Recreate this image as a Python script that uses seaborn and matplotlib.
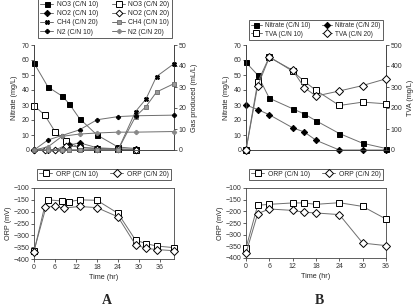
import matplotlib.pyplot as plt
import seaborn as sns
import numpy as np

sns.set_style('ticks')
plt.rcParams['font.family'] = ['Liberation Sans', 'DejaVu Sans']
plt.rcParams['axes.linewidth'] = 0.6
plt.rcParams['xtick.major.width'] = 0.6
plt.rcParams['ytick.major.width'] = 0.6
plt.rcParams['xtick.major.size'] = 2
plt.rcParams['ytick.major.size'] = 2
plt.rcParams['axes.edgecolor'] = '#444444'

# Panel A top - nitrate / nitrite (left axis)
t_a10 = [0, 4, 8, 10, 13, 18, 24, 29]
no3_10 = [58, 42, 36, 31, 21, 10, 2, 1]
no2_10 = [0, 0, 0, 3.2, 4.8, 1.5, 0.8, 0.5]
t_a20 = [0, 3, 6, 9, 13, 18, 24, 29]
no3_20 = [29.5, 23.5, 12.3, 6.3, 1.5, 1, 0.5, 0]
no2_20 = [0, 0, 0, 3, 2, 1, 0.5, 0]

# Panel A top - gases (right axis)
t_gas = [0, 4, 8, 10, 13, 18, 24, 29, 32, 35, 40]
ch4_20 = [0, 0, 0, 0, 0, 0.2, 0, 18.3, 24.3, 35, 41.1]
ch4_10 = [0, 0, 0, 0, 0, 0, 0, 15.9, 20.7, 27.6, 31.6]
t_n2 = [0, 4, 8, 13, 18, 24, 29, 40]
n2_10 = [0, 4.8, 6.9, 9.6, 14.4, 15.9, 16.3, 16.6]
n2_20 = [0, 1.5, 6.5, 7.6, 8.1, 8.5, 8.5, 8.8]

# Panel B top
t_b = [0, 3, 6, 12, 15, 18, 24, 30, 36]
nit_10 = [58.4, 50, 34.5, 27.5, 24, 19.5, 11, 4.5, 1]
nit_20 = [30, 27, 23.5, 14.8, 12, 6.5, 0, 0, 0]
tva_10 = [0, 322, 444, 375, 327, 284, 212, 228, 220]
tva_20 = [0, 305, 441, 380, 297, 257, 281, 307, 339]

# ORP panel A
t_orp_a10 = [0, 4, 8, 10, 13, 18, 24, 29, 32, 35, 40]
orp_a10 = [-365, -150, -155, -158, -150, -152, -207, -320, -335, -345, -352]
t_orp_a20 = [0, 3, 6, 8.5, 13, 18, 24, 29, 32, 35, 40]
orp_a20 = [-370, -180, -178, -185, -178, -183, -222, -340, -355, -360, -365]

# ORP panel B
orp_b10 = [-357, -174, -170, -164, -164, -170, -163, -179, -233]
orp_b20 = [-379, -210, -190, -196, -204, -207, -214, -336, -347]

W, H = 416, 308
fig = plt.figure(figsize=(W / 100, H / 100), dpi=100)


def box(l, r, t, b):
    return [l / W, (H - b) / H, (r - l) / W, (b - t) / H]


ax_a = fig.add_axes(box(34, 174, 45, 150))
ax_a2 = ax_a.twinx()
ax_b = fig.add_axes(box(246, 386, 45, 150))
ax_b2 = ax_b.twinx()
ax_oa = fig.add_axes(box(34, 174, 188, 259))
ax_ob = fig.add_axes(box(246, 386, 188, 258))

LC = '#6e6e6e'


def draw(ax, t, y, marker, label, mfc='black', mec='black', ms=3.6):
    sns.lineplot(x=t, y=y, ax=ax, marker=marker, color=LC, label=label,
                 markerfacecolor=mfc, markeredgecolor=mec, markersize=ms,
                 markeredgewidth=0.7, linewidth=0.7, sort=False,
                 estimator=None, clip_on=False, zorder=5)
    return ax.lines[-1]


h = {}
h['no3_10'] = draw(ax_a, t_a10, no3_10, 's', 'NO3 (C/N 10)')
h['no3_20'] = draw(ax_a, t_a20, no3_20, 's', 'NO3 (C/N 20)', mfc='white', ms=4)
h['no2_10'] = draw(ax_a, t_a10, no2_10, 'D', 'NO2 (C/N 10)', ms=3.2)
h['no2_20'] = draw(ax_a, t_a20, no2_20, 'D', 'NO2 (C/N 20)', mfc='white', ms=3.4)
h['ch4_20'] = draw(ax_a2, t_gas, ch4_20, 'X', 'CH4 (C/N 20)', ms=3.0)
h['ch4_10'] = draw(ax_a2, t_gas, ch4_10, 's', 'CH4 (C/N 10)', mfc='#999999', mec='#777777', ms=2.6)
h['n2_10'] = draw(ax_a2, t_n2, n2_10, 'P', 'N2 (C/N 10)', ms=3.0)
h['n2_20'] = draw(ax_a2, t_n2, n2_20, 'P', 'N2 (C/N 20)', mfc='#888888', mec='#888888', ms=3.0)

h['nit_10'] = draw(ax_b, t_b, nit_10, 's', 'Nitrate (C/N 10)')
h['nit_20'] = draw(ax_b, t_b, nit_20, 'D', 'Nitrate (C/N 20)', ms=3.2)
h['tva_10'] = draw(ax_b2, t_b, tva_10, 's', 'TVA (C/N 10)', mfc='white', ms=4.2)
h['tva_20'] = draw(ax_b2, t_b, tva_20, 'D', 'TVA (C/N 20)', mfc='white', ms=4.0)

h['oa10'] = draw(ax_oa, t_orp_a10, orp_a10, 's', 'ORP (C/N 10)', mfc='white', ms=4.2)
h['oa20'] = draw(ax_oa, t_orp_a20, orp_a20, 'D', 'ORP (C/N 20)', mfc='white', ms=4.0)
h['ob10'] = draw(ax_ob, t_b, orp_b10, 's', 'ORP (C/N 10)', mfc='white', ms=4.2)
h['ob20'] = draw(ax_ob, t_b, orp_b20, 'D', 'ORP (C/N 20)', mfc='white', ms=4.0)

for ax in [ax_a, ax_a2, ax_b, ax_b2, ax_oa, ax_ob]:
    if ax.get_legend() is not None:
        ax.get_legend().remove()
    ax.tick_params(labelsize=5, colors='#444444', labelcolor='#333333', pad=1.5)

fs = 5.2
# top panels
for ax, ax2, xmax, r2, lab2 in [(ax_a, ax_a2, 40, 50, 'Gas produced (mL/L)'),
                               (ax_b, ax_b2, 36, 500, 'TVA (mg/L)')]:
    ax.set_xlim(0, xmax)
    ax.set_ylim(0, 70)
    ax.set_yticks(np.arange(0, 71, 10))
    ax.set_xticks([])
    ax2.set_ylim(0, r2)
    ax2.set_yticks(np.linspace(0, r2, 6))
    for a in (ax, ax2):
        a.spines['top'].set_visible(False)
        a.set_xlabel('')
    ax.set_ylabel('Nitrate (mg/L)', fontsize=fs, labelpad=2)
    ax2.set_ylabel(lab2, fontsize=fs, labelpad=3)

for ax, xmax in [(ax_oa, 40), (ax_ob, 36)]:
    ax.set_xlim(0, xmax)
    ax.set_xticks(np.arange(0, 37, 6))
    ax.set_ylim(-400, -100)
    ax.set_yticks(np.arange(-400, -99, 50))
    ax.set_yticklabels([f'\u2212{abs(v)}' for v in range(-400, -99, 50)])
    ax.set_xlabel('Time (hr)', fontsize=fs, labelpad=2)
    ax.set_ylabel('ORP (mV)', fontsize=fs, labelpad=1)

leg_kw = dict(frameon=True, fancybox=False, framealpha=1,
              edgecolor='#444444', mode='expand',
              handletextpad=0.5, borderpad=0.3, columnspacing=0.8,
              bbox_transform=fig.transFigure)

order_a = ['no3_10', 'no2_10', 'ch4_20', 'n2_10', 'no3_20', 'no2_20', 'ch4_10', 'n2_20']
la = fig.legend([h[k] for k in order_a], [h[k].get_label() for k in order_a],
                ncol=2, loc='lower left', labelspacing=0.32, fontsize=4.9,
                handlelength=1.9,
                bbox_to_anchor=(35 / W, (H - 41) / H, 140 / W, 0.1), **leg_kw)
la.get_frame().set_linewidth(0.6)

order_b = ['nit_10', 'tva_10', 'nit_20', 'tva_20']
lb = fig.legend([h[k] for k in order_b], [h[k].get_label() for k in order_b],
                ncol=2, loc='lower left', labelspacing=0.3, fontsize=4.7,
                handlelength=1.6,
                bbox_to_anchor=(246 / W, (H - 43) / H, 140 / W, 0.1), **leg_kw)
lb.get_frame().set_linewidth(0.6)

for ax, k1, k2 in [(ax_oa, 'oa10', 'oa20'), (ax_ob, 'ob10', 'ob20')]:
    l0 = ax.get_position().x0
    lo = fig.legend([h[k1], h[k2]], ['ORP (C/N 10)', 'ORP (C/N 20)'],
                    ncol=2, loc='lower left', fontsize=4.9, handlelength=1.9,
                    bbox_to_anchor=(l0, (H - 183) / H, 140 / W, 0.05), **leg_kw)
    lo.get_frame().set_linewidth(0.6)

fig.text(107 / W, 1 - 301 / H, 'A', ha='center', va='center', fontsize=10,
         fontweight='bold', family='Liberation Serif')
fig.text(319 / W, 1 - 301 / H, 'B', ha='center', va='center', fontsize=10,
         fontweight='bold', family='Liberation Serif')

fig.savefig('out.png', dpi=100)
